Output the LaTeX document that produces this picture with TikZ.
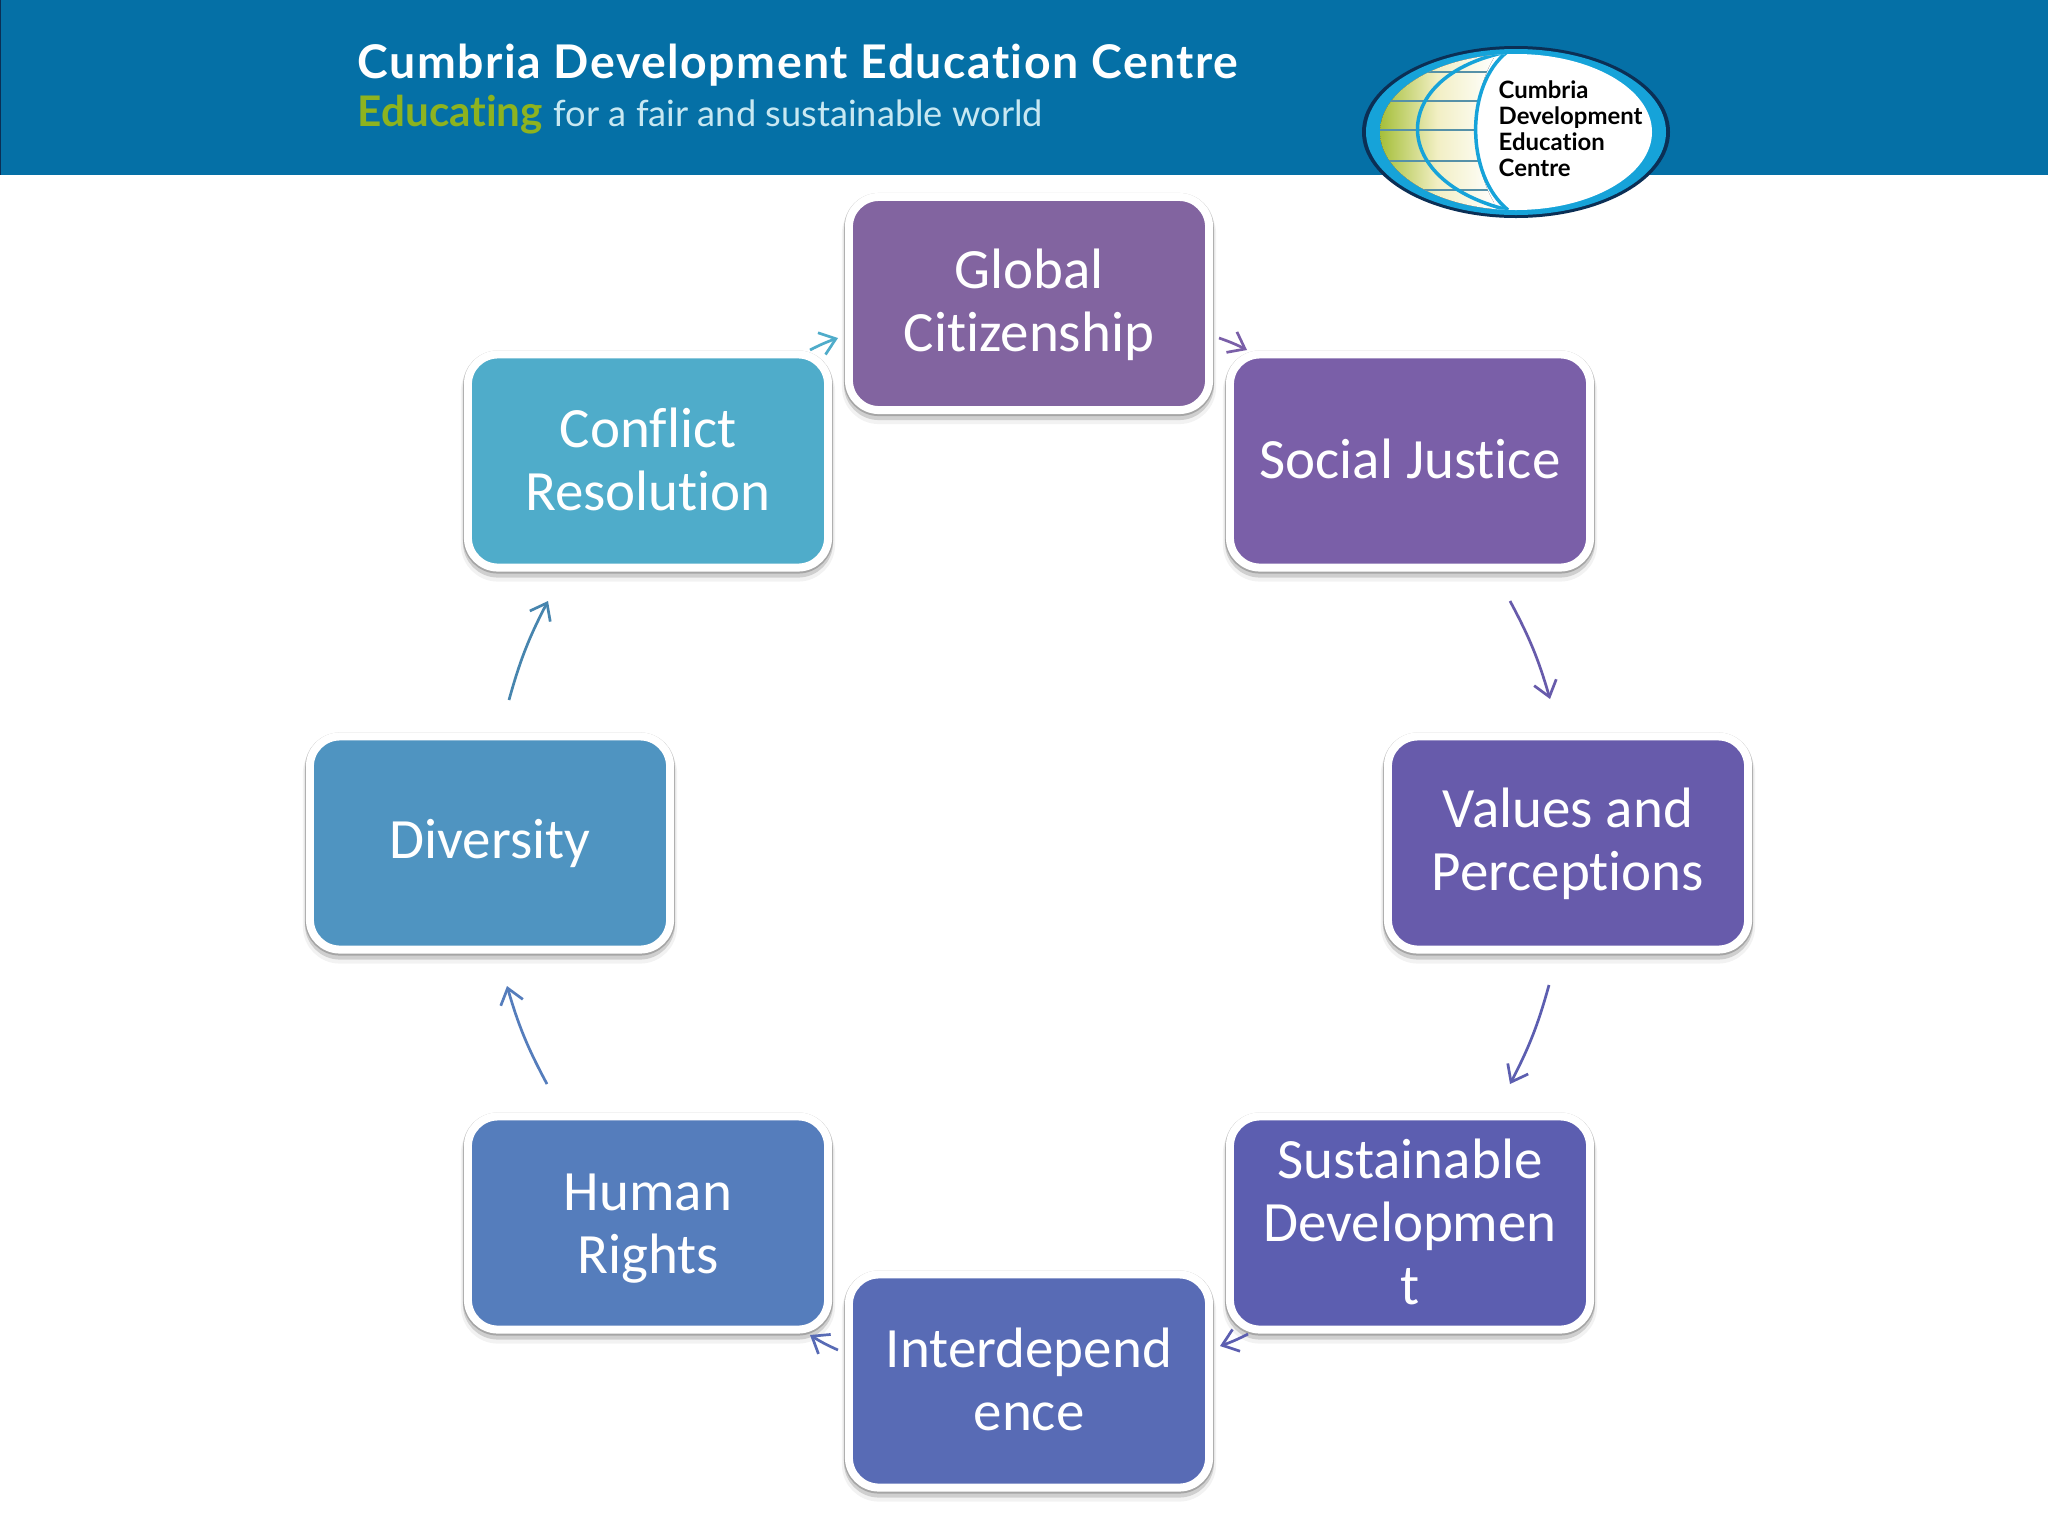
\documentclass[tikz,border=0pt]{standalone}
\usepackage{fontspec}
\setmainfont[Ligatures=NoCommon]{Carlito}
\newfontfamily\lato[Ligatures=NoCommon]{Lato}
\newfontfamily\latotitle[Ligatures=NoCommon,LetterSpace=3.2]{Lato}
\usetikzlibrary{arrows.meta,calc}
\definecolor{hdr}{HTML}{0570A6}
\definecolor{cGlobal}{HTML}{8264A0}
\definecolor{cSocial}{HTML}{7A5FA8}
\definecolor{cValues}{HTML}{675BAB}
\definecolor{cSust}{HTML}{5C5EB0}
\definecolor{cInter}{HTML}{586BB5}
\definecolor{cHuman}{HTML}{557DBC}
\definecolor{cDiv}{HTML}{4F94C1}
\definecolor{cConf}{HTML}{4FACCA}
\definecolor{ringblue}{HTML}{16A3D9}
\definecolor{ringdark}{HTML}{0B2F55}
\definecolor{globegreen}{HTML}{A5BF3A}
\definecolor{globepale}{HTML}{F2EFC4}
\definecolor{edu}{HTML}{8DB31F}
\definecolor{subt}{HTML}{C8E8F2}
\tikzset{
  card/.style={rounded corners=.30cm, minimum width=3.60cm, minimum height=2.13cm,
    inner sep=0pt, outer sep=0pt, align=center, text=white, line width=.08cm, draw=white,
    font=\fontsize{16.2}{17.9}\selectfont, text depth=0pt,
    preaction={draw=black, opacity=.05, line width=.14cm, transform canvas={yshift=-.07cm}},
    preaction={draw=black, opacity=.14, line width=.10cm, transform canvas={yshift=-.05cm}},
    preaction={draw=black, opacity=.20, line width=.10cm, transform canvas={yshift=-.01cm}}},
  arr/.style={line width=.027cm, -{Straight Barb[length=.15cm,width=.23cm,line width=.027cm]}},
  logotext/.style={inner sep=0pt, anchor=base west, align=left, text=black,
    font=\lato\bfseries\fontsize{6.8}{7.5}\selectfont}
}
\begin{document}
\begin{tikzpicture}[x=.01cm,y=-.01cm]
\useasboundingbox (0,0) rectangle (2048,1536);
\fill[white] (0,0) rectangle (2048,1536);
\fill[hdr] (0,0) rectangle (2048,175);
\fill[ringdark] (0,0) rectangle (1.5,175);
% header text
\node[anchor=base west, inner sep=0pt, text=white, font=\latotitle\bfseries\fontsize{13.2}{14}\selectfont] (title) at (357,78) {Cumbria Development Education Centre};
\node[anchor=base west, inner sep=0pt, text=subt, font=\lato\fontsize{10.3}{13}\selectfont] (subtitle) at (357,126) {{\color{edu}\bfseries\fontsize{12}{13}\selectfont Educating}\hspace{.015cm} for a fair and sustainable world};
% logo
\fill[ringdark] (1516,132) ellipse [x radius=154, y radius=86];
\fill[ringblue] (1516,132) ellipse [x radius=150, y radius=83];
\fill[white] (1516,132) ellipse [x radius=136, y radius=78];
\begin{scope}
  \clip (1516,132) ellipse [x radius=136, y radius=78];
  \begin{scope}
    \clip (1507,40) .. controls (1465,85) and (1465,175) .. (1508,222) -- (1300,222) -- (1300,40) -- cycle;
    \fill[left color=globegreen, right color=white, middle color=globepale] (1380,52) rectangle (1495,212);
    \foreach \yy in {72,101,130,161,190}
      \draw[ringblue!60!black!70, line width=.014cm] (1380,\yy) -- (1500,\yy);
  \end{scope}
  \draw[ringblue, line width=.035cm] (1507,52) .. controls (1465,85) and (1465,175) .. (1508,210);
  \draw[ringblue, line width=.035cm] (1507,52) .. controls (1390,75) and (1385,180) .. (1508,210);
\end{scope}
\node[logotext] (logoA) at (1498,98) {Cumbria};
\node[logotext] (logoB) at (1498,124) {Development};
\node[logotext] (logoC) at (1498,150) {Education};
\node[logotext] (logoD) at (1498,176) {Centre};
% cards
\node[card, text height=.95cm, fill=cGlobal] (global) at (1029,303.5) {Global\\Citizenship};
\node[card, text height=.34cm, fill=cSocial] (social) at (1410,461) {Social Justice};
\node[card, text height=.95cm, fill=cValues] (values) at (1568,843) {Values and\\Perceptions};
\node[card, text height=1.63cm, fill=cSust] (sust) at (1410,1223) {Sustainable\\Developmen\\t};
\node[card, text height=.98cm, fill=cInter] (inter) at (1029,1381) {Interdepend\\ence};
\node[card, text height=1.00cm, fill=cHuman] (human) at (648,1223) {Human\\Rights};
\node[card, text height=.31cm, fill=cDiv] (diversity) at (490,843) {Diversity};
\node[card, text height=.98cm, fill=cConf] (conflict) at (648,461) {Conflict\\Resolution};
% connector ends
\coordinate (gsA) at ($(global)+(190,34.5)$);
\coordinate (gsB) at ($(social)+(-163,-111)$);
\coordinate (svA) at ($(social)+(100,140)$);
\coordinate (svB) at ($(values)+(-18,-144)$);
\coordinate (vsA) at ($(values)+(-19,142)$);
\coordinate (vsB) at ($(sust)+(100,-139)$);
\coordinate (siA) at ($(sust)+(-162,111)$);
\coordinate (siB) at ($(inter)+(191,-35)$);
\coordinate (ihA) at ($(inter)+(-191,-31)$);
\coordinate (ihB) at ($(human)+(162,112)$);
\coordinate (hdA) at ($(human)+(-101,-139)$);
\coordinate (hdB) at ($(diversity)+(17,143)$);
\coordinate (dcA) at ($(diversity)+(19,-143)$);
\coordinate (dcB) at ($(conflict)+(-100,140)$);
\coordinate (cgA) at ($(conflict)+(162,-111)$);
\coordinate (cgB) at ($(global)+(-191,34.5)$);
% connectors
\draw[arr, cSocial] (gsA) to[bend left=4] (gsB);
\draw[arr, cValues] (svA) to[bend left=6] (svB);
\draw[arr, cSust] (vsA) to[bend left=6] (vsB);
\draw[arr, cSust] (siA) to[bend left=4] (siB);
\draw[arr, cInter] (ihA) to[bend left=4] (ihB);
\draw[arr, cHuman] (hdA) to[bend left=6] (hdB);
\draw[arr, cDiv!90!black] (dcA) to[bend left=6] (dcB);
\draw[arr, cConf] (cgA) to[bend left=4] (cgB);
\end{tikzpicture}
\end{document}
